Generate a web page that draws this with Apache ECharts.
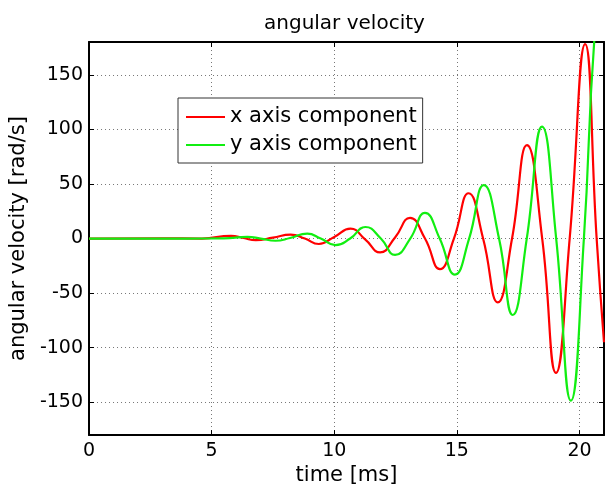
<!DOCTYPE html>
<html>
<head>
<meta charset="utf-8">
<script src="https://cdn.jsdelivr.net/npm/echarts@6/dist/echarts.min.js"></script>
<style>
  html, body { margin: 0; padding: 0; background: #fff; }
  #angularChart { width: 605px; height: 491px; }
</style>
</head>
<body>
<div id="angularChart"></div>
<script>
// values: [time ms, rad/s]
// peaks, troughs and zero crossings
var xComponent = [
    [0, 0], [3, 0.2], [4.6, 0], [5.79, 2.5], [6.3, 0.5], [6.8, -1.5],
    [7.5, 0.8], [8.22, 3.6], [8.8, 0], [9.37, -5], [10.0, 1.5], [10.66, 9],
    [11.27, -1], [11.87, -12.7], [12.48, 1], [13.09, 19], [13.7, 0], [14.31, -28],
    [14.88, 0], [15.48, 41.5], [16.07, 0], [16.67, -58.5], [17.25, 0],
    [17.86, 85.5], [18.48, 0], [19.04, -123], [19.6, 0], [20.23, 178],
    [20.7, 0], [21, -95]
];
var yComponent = [
    [0, 0], [4, 0], [5.5, 0.2], [6.46, 1.5], [7.0, 0], [7.6, -2], [8.2, 0.5],
    [8.9, 4.5], [9.45, 0], [10.05, -6], [10.65, 0], [11.27, 10.6], [11.9, 0],
    [12.48, -15], [13.1, 0], [13.7, 23.6], [14.3, 0], [14.92, -33], [15.5, 0],
    [16.1, 49], [16.72, 0], [17.28, -70], [17.85, 0], [18.47, 102.5],
    [19.05, 0], [19.65, -148.5], [20.18, 0], [20.6, 180], [20.88, 220], [21, 212]
];
var xTicks = [0, 5, 10, 15, 20];
var yTicks = [-150, -100, -50, 0, 50, 100, 150];

var font = 'DejaVu Sans';
var dotted = { color: '#777', width: 1, type: [1, 3] };

var myChart = echarts.init(document.getElementById('angularChart'));

var option = {
    backgroundColor: '#fff',
    animation: false,
    title: {
        text: 'angular velocity',
        left: 259,
        top: 9,
        textStyle: { fontFamily: font, fontSize: 20, fontWeight: 'normal', color: '#000' }
    },
    legend: {
        left: 178,
        top: 98,
        orient: 'vertical',
        icon: 'rect',
        itemWidth: 39,
        itemHeight: 2,
        itemGap: 6,
        padding: [8, 6, 7, 8],
        backgroundColor: '#fff',
        borderColor: '#333',
        borderWidth: 1,
        textStyle: { fontFamily: font, fontSize: 21, lineHeight: 22, color: '#000' },
        data: ['x axis component', 'y axis component']
    },
    grid: { left: 89, top: 42, right: 1, bottom: 53, containLabel: false },
    xAxis: [{
        type: 'value',
        min: 0,
        max: 21,
        interval: 5,
        name: 'time [ms]',
        nameLocation: 'middle',
        nameGap: 26,
        nameTextStyle: { fontFamily: font, fontSize: 21, color: '#000' },
        axisLine: { onZero: false, lineStyle: { color: '#000', width: 2 } },
        axisTick: { inside: true, length: 5, lineStyle: { color: '#000' } },
        axisLabel: {
            fontFamily: font, fontSize: 19, color: '#000', margin: 6, showMaxLabel: false,
            formatter: function (v) { return xTicks.indexOf(v) >= 0 ? String(v) : ''; }
        },
        splitLine: { show: true, lineStyle: dotted }
    }, {
        type: 'value',
        position: 'top',
        min: 0,
        max: 21,
        interval: 5,
        axisLine: { onZero: false, lineStyle: { color: '#000', width: 2 } },
        axisTick: { inside: true, length: 5, lineStyle: { color: '#000' } },
        axisLabel: { show: false },
        splitLine: { show: false }
    }],
    yAxis: [{
        type: 'value',
        min: -180,
        max: 180,
        splitNumber: 7,
        name: 'angular velocity [rad/s]',
        nameLocation: 'middle',
        nameRotate: 90,
        nameGap: 48,
        nameTextStyle: { fontFamily: font, fontSize: 21, color: '#000' },
        axisLine: { onZero: false, lineStyle: { color: '#000', width: 2 } },
        axisTick: { inside: true, length: 5, lineStyle: { color: '#000' } },
        axisLabel: {
            fontFamily: font, fontSize: 19, color: '#000', margin: 6,
            showMinLabel: false, showMaxLabel: false,
            formatter: function (v) { return yTicks.indexOf(v) >= 0 ? String(v) : ''; }
        },
        splitLine: { show: true, lineStyle: dotted }
    }, {
        type: 'value',
        position: 'right',
        min: -180,
        max: 180,
        splitNumber: 7,
        axisLine: { onZero: false, lineStyle: { color: '#000', width: 2 } },
        axisTick: { inside: true, length: 5, lineStyle: { color: '#000' } },
        axisLabel: { show: false },
        splitLine: { show: false }
    }],
    series: [{
        name: 'x axis component',
        type: 'line',
        data: xComponent,
        smooth: 0.5,
        showSymbol: false,
        clip: true,
        color: '#ff0000',
        lineStyle: { width: 2.2, color: '#ff0000' }
    }, {
        name: 'y axis component',
        type: 'line',
        data: yComponent,
        smooth: 0.5,
        showSymbol: false,
        clip: true,
        color: '#11ee11',
        lineStyle: { width: 2.2, color: '#11ee11' }
    }]
};

myChart.setOption(option);
</script>
</body>
</html>
